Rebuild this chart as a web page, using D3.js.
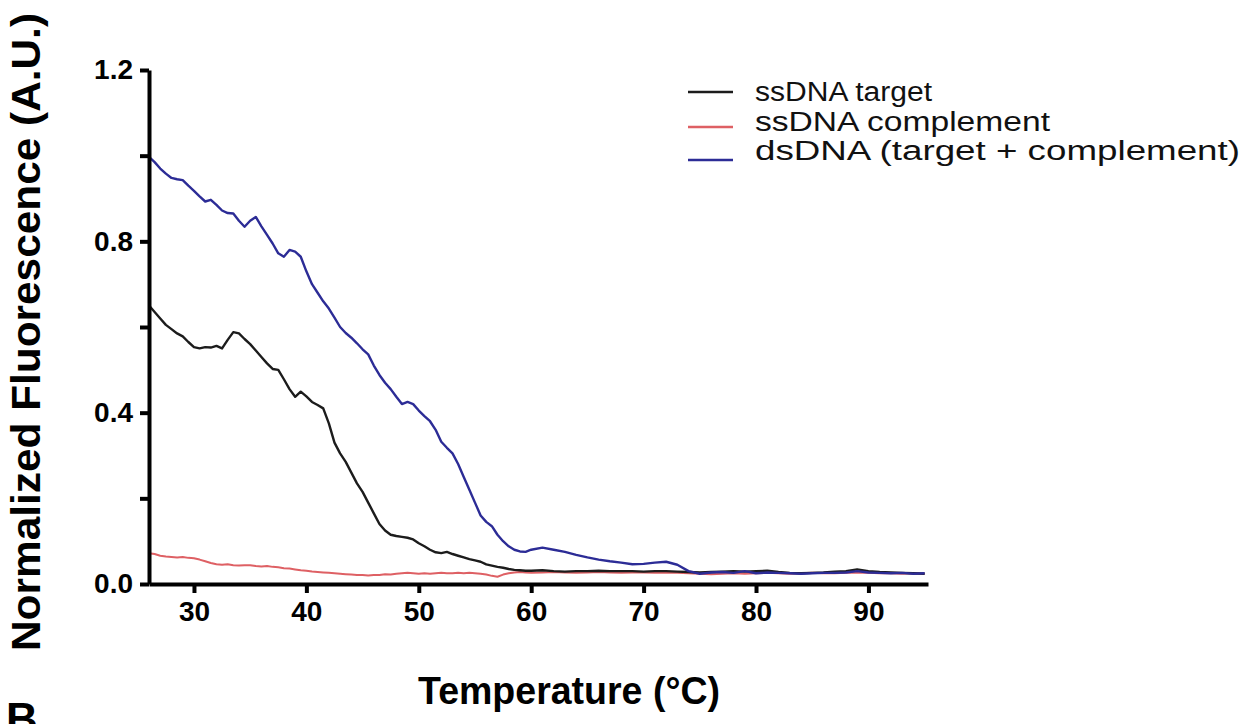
<!DOCTYPE html>
<html>
<head>
<meta charset="utf-8">
<script src="https://cdn.jsdelivr.net/npm/d3@7"></script>
<style>
  html, body { margin: 0; padding: 0; background: #fff; }
  text { font-family: "Liberation Sans", Arial, sans-serif; }
</style>
</head>
<body>
<div id="graph"></div>
<script>
"use strict";

// Temperatures (0.5 step up to 60, then 1 step)
const temperature = [
  26, 26.5, 27, 27.5, 28, 28.5, 29, 29.5, 30, 30.5, 31, 31.5, 32, 32.5, 33, 33.5, 34, 34.5,
  35, 35.5, 36, 36.5, 37, 37.5, 38, 38.5, 39, 39.5, 40, 40.5, 41, 41.5, 42, 42.5, 43, 43.5,
  44, 44.5, 45, 45.5, 46, 46.5, 47, 47.5, 48, 48.5, 49, 49.5, 50, 50.5, 51, 51.5, 52, 52.5,
  53, 53.5, 54, 54.5, 55, 55.5, 56, 56.5, 57, 57.5, 58, 58.5, 59, 59.5, 60,
  61, 62, 63, 64, 65, 66, 67, 68, 69, 70, 71, 72, 73, 74, 75, 76, 77, 78, 79, 80,
  81, 82, 83, 84, 85, 86, 87, 88, 89, 90, 91, 92, 93, 94, 95,
];

const ssTarget = [
  0.65, 0.635, 0.62, 0.605, 0.595, 0.585, 0.578, 0.565, 0.553, 0.55, 0.553, 0.552, 0.556, 0.55, 0.57, 0.588, 0.585, 0.572,
  0.56, 0.545, 0.53, 0.515, 0.502, 0.5, 0.478, 0.455, 0.437, 0.449, 0.438, 0.425, 0.418, 0.41, 0.375, 0.33, 0.305, 0.285,
  0.26, 0.235, 0.215, 0.19, 0.165, 0.14, 0.125, 0.115, 0.112, 0.11, 0.108, 0.104, 0.095, 0.088, 0.08, 0.074, 0.072, 0.075,
  0.07, 0.066, 0.062, 0.058, 0.055, 0.052, 0.046, 0.043, 0.04, 0.038, 0.035, 0.033, 0.032, 0.031, 0.031,
  0.032, 0.03, 0.029, 0.03, 0.03, 0.031, 0.03, 0.03, 0.03, 0.029, 0.03, 0.03, 0.029, 0.028, 0.027, 0.028, 0.029, 0.03, 0.029, 0.03,
  0.031, 0.028, 0.026, 0.025, 0.026, 0.027, 0.029, 0.03, 0.034, 0.03, 0.028, 0.027, 0.026, 0.025, 0.024,
];

const ssComplement = [
  0.072, 0.07, 0.066, 0.064, 0.063, 0.062, 0.063, 0.061, 0.06, 0.057, 0.053, 0.049, 0.046, 0.045, 0.046, 0.044, 0.043, 0.044,
  0.044, 0.042, 0.041, 0.042, 0.04, 0.039, 0.037, 0.036, 0.034, 0.032, 0.031, 0.029, 0.028, 0.027, 0.026, 0.025, 0.024, 0.023,
  0.022, 0.021, 0.021, 0.02, 0.021, 0.021, 0.023, 0.022, 0.024, 0.025, 0.026, 0.025, 0.024, 0.025, 0.024, 0.025, 0.026, 0.025,
  0.025, 0.026, 0.025, 0.026, 0.025, 0.024, 0.022, 0.019, 0.017, 0.022, 0.025, 0.027, 0.028, 0.027, 0.026,
  0.027, 0.028, 0.027, 0.026, 0.027, 0.028, 0.027, 0.026, 0.027, 0.027, 0.026, 0.027, 0.026, 0.025, 0.024, 0.023, 0.024, 0.025, 0.024, 0.025,
  0.026, 0.025, 0.024, 0.025, 0.026, 0.025, 0.025, 0.026, 0.027, 0.026, 0.025, 0.025, 0.024, 0.025, 0.024,
];

const dsDNA = [
  0.997, 0.985, 0.97, 0.958, 0.948, 0.945, 0.943, 0.93, 0.918, 0.905, 0.893, 0.897, 0.885, 0.872, 0.866, 0.865, 0.848, 0.834,
  0.848, 0.857, 0.835, 0.815, 0.795, 0.772, 0.764, 0.78, 0.776, 0.764, 0.73, 0.7, 0.68, 0.66, 0.643, 0.622, 0.6, 0.586,
  0.575, 0.562, 0.548, 0.536, 0.51, 0.488, 0.47, 0.455, 0.437, 0.42, 0.425, 0.42, 0.405, 0.392, 0.38, 0.36, 0.332, 0.318,
  0.305, 0.28, 0.25, 0.22, 0.19, 0.16, 0.145, 0.135, 0.115, 0.1, 0.088, 0.08, 0.076, 0.075, 0.08,
  0.085, 0.08, 0.075, 0.068, 0.062, 0.057, 0.053, 0.05, 0.046, 0.047, 0.05, 0.052, 0.045, 0.03, 0.024, 0.027, 0.028, 0.026, 0.03, 0.025,
  0.027, 0.026, 0.025, 0.024, 0.025, 0.026, 0.026, 0.027, 0.03, 0.027, 0.026, 0.025, 0.026, 0.024, 0.025,
];

const series = [
  { name: "ssDNA target", values: ssTarget, color: "#1c1c1c" },
  { name: "ssDNA complement", values: ssComplement, color: "#de6064" },
  { name: "dsDNA (target + complement)", values: dsDNA, color: "#2c2c96" },
];

const yTicks = [0, 0.2, 0.4, 0.6, 0.8, 1.0, 1.2];
const xTicks = [30, 40, 50, 60, 70, 80, 90];

// Dimensions
const w = 1253;
const h = 724;

const svg = d3.select("#graph").append("svg").attr("width", w).attr("height", h);
svg.append("rect").attr("width", w).attr("height", h).attr("fill", "#fff");

const x = d3.scaleLinear().domain([26, 95.3]).range([149, 928]);
const y = d3.scaleLinear().domain([0, 1.2]).range([584, 70]);

// Axes
const yAxis = d3
  .axisLeft(y)
  .tickValues(yTicks)
  .tickSize(9)
  .tickSizeOuter(0)
  .tickPadding(7)
  .tickFormat((d) => (Math.round(d * 10) % 4 === 0 ? d3.format(".1f")(d) : ""));

const xAxis = d3.axisBottom(x).tickValues(xTicks).tickSize(9).tickSizeOuter(0).tickPadding(8);

const styleAxis = (g) => {
  g.select(".domain").attr("stroke", "#000").attr("stroke-width", 4);
  g.selectAll(".tick line").attr("stroke", "#000").attr("stroke-width", 4);
  g.selectAll(".tick text")
    .attr("fill", "#000")
    .attr("font-size", 28)
    .attr("font-weight", "bold")
    .attr("font-family", "'Liberation Sans', Arial, sans-serif");
};

// Series lines
const line = d3
  .line()
  .x((d) => x(d[0]))
  .y((d) => y(d[1]));

const drawOrder = [series[1], series[0], series[2]];

svg
  .append("g")
  .selectAll("path")
  .data(drawOrder)
  .enter()
  .append("path")
  .attr("fill", "none")
  .attr("stroke", (d) => d.color)
  .attr("stroke-width", (d) => (d.name === "ssDNA complement" ? 2 : 2.4))
  .attr("stroke-linejoin", "round")
  .attr("d", (d) => line(temperature.map((t, i) => [t, d.values[i]])));

svg.append("g").attr("transform", `translate(${x.range()[0]},0)`).call(yAxis).call(styleAxis);
svg.append("g").attr("transform", `translate(0,${y.range()[0]})`).call(xAxis).call(styleAxis);

// Axis titles
svg
  .append("text")
  .attr("transform", "translate(40,332) rotate(-90)")
  .attr("text-anchor", "middle")
  .attr("font-size", 40)
  .attr("font-weight", "bold")
  .attr("textLength", 638)
  .attr("lengthAdjust", "spacingAndGlyphs")
  .text("Normalized Fluorescence (A.U.)");

svg
  .append("text")
  .attr("x", 569)
  .attr("y", 704)
  .attr("text-anchor", "middle")
  .attr("font-size", 38)
  .attr("font-weight", "bold")
  .attr("textLength", 302)
  .attr("lengthAdjust", "spacingAndGlyphs")
  .text("Temperature (°C)");

// Panel letter (cut off at the bottom, as in the source figure)
svg
  .append("text")
  .attr("x", 6)
  .attr("y", 734)
  .attr("font-size", 44)
  .attr("font-weight", "bold")
  .text("B");

// Legend
const legendLines = [92, 127, 160];
const legendText = [101, 131, 160];
const legendLen = [177, 295, 485];

const legend = svg.append("g").attr("id", "legend");

const item = legend.selectAll("g").data(series).enter().append("g");

item
  .append("line")
  .attr("x1", 688)
  .attr("x2", 733)
  .attr("y1", (d, i) => legendLines[i])
  .attr("y2", (d, i) => legendLines[i])
  .attr("stroke", (d) => d.color)
  .attr("stroke-width", 2.5);

item
  .append("text")
  .attr("x", 755)
  .attr("y", (d, i) => legendText[i])
  .attr("font-size", 27)
  .attr("textLength", (d, i) => legendLen[i])
  .attr("lengthAdjust", "spacingAndGlyphs")
  .attr("fill", "#111")
  .text((d) => d.name);
</script>
</body>
</html>
